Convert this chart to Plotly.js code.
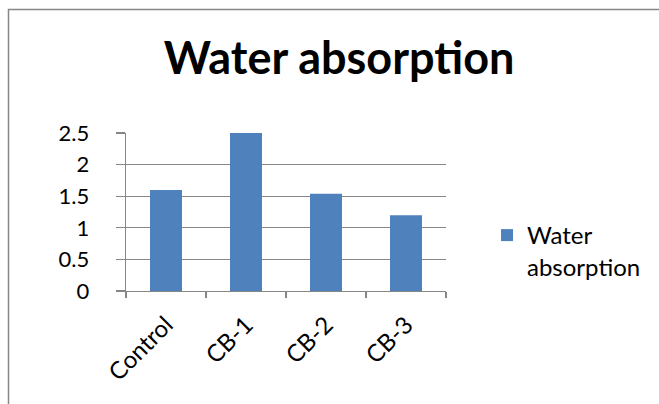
<!DOCTYPE html>
<html>
<head>
<meta charset="utf-8">
<script src="https://cdn.plot.ly/plotly-3.0.1.min.js"></script>
<style>
html,body{margin:0;padding:0;background:#fff;overflow:hidden;}
#chart{width:659px;height:404px;}
</style>
</head>
<body>
<div id="chart"></div>
<script>
const categories = ["Control", "CB-1", "CB-2", "CB-3"];
const waterAbsorption = [1.6, 2.5, 1.54, 1.2];
const seriesName = "Water<br>absorption";
const chartTitle = "Water absorption";
const yTickVals = [0, 0.5, 1, 1.5, 2, 2.5];
const yTickText = ["0", "0.5", "1", "1.5", "2", "2.5"];

const L = 126, R = 213, T = 133, B = 113;
const PW = 659 - L - R, PH = 404 - T - B;
const gray = "#868686";
const font = "Lato, 'Liberation Sans', sans-serif";

const trace = {
  type: "bar",
  x: categories,
  y: waterAbsorption,
  name: seriesName,
  marker: {color: "#4f81bd", line: {width: 0}},
  showlegend: true,
  hoverinfo: "none"
};

const layout = {
  width: 659, height: 404,
  margin: {l: L, r: R, t: T, b: B, pad: 0, autoexpand: false},
  paper_bgcolor: "#fff", plot_bgcolor: "#fff",
  bargap: 0.6,
  showlegend: true,
  title: {
    text: "<b>" + chartTitle + "</b>",
    font: {family: font, size: 45, color: "#000"},
    xref: "paper", x: 0.666, xanchor: "center",
    yref: "container", y: 1 - 58/404, yanchor: "middle"
  },
  xaxis: {
    type: "category",
    tickson: "boundaries",
    ticks: "outside", ticklen: 6, tickwidth: 1.3, tickcolor: gray,
    showline: true, linecolor: gray, linewidth: 1.3,
    showgrid: false, zeroline: false,
    tickangle: -45,
    ticklabelstandoff: 9,
    tickfont: {family: font, size: 24, color: "#000"},
    automargin: false,
    fixedrange: true
  },
  yaxis: {
    range: [0, 2.5],
    tickvals: yTickVals, ticktext: yTickText,
    ticks: "outside", ticklen: 9, tickwidth: 1.3, tickcolor: gray,
    showline: true, linecolor: gray, linewidth: 1.3,
    showgrid: true, gridcolor: gray, gridwidth: 1.3,
    zeroline: false,
    ticklabelstandoff: 22,
    tickfont: {family: font, size: 22, color: "#000"},
    automargin: false,
    fixedrange: true
  },
  legend: {
    x: (487 - L) / PW, xanchor: "left",
    y: 1 - (251 - T) / PH, yanchor: "middle",
    valign: "top",
    font: {family: font, size: 24, color: "#000"},
    itemwidth: 30,
    bgcolor: "rgba(0,0,0,0)"
  },
  shapes: [{
    type: "rect", xref: "paper", yref: "paper",
    x0: (8.5 - L) / PW, x1: (700 - L) / PW,
    y0: 1 - (450 - T) / PH, y1: 1 + (T - 9.5) / PH,
    line: {color: gray, width: 1.5}, fillcolor: "rgba(0,0,0,0)", layer: "below"
  }]
};

Plotly.newPlot("chart", [trace], layout, {displayModeBar: false, staticPlot: true});
</script>
</body>
</html>
